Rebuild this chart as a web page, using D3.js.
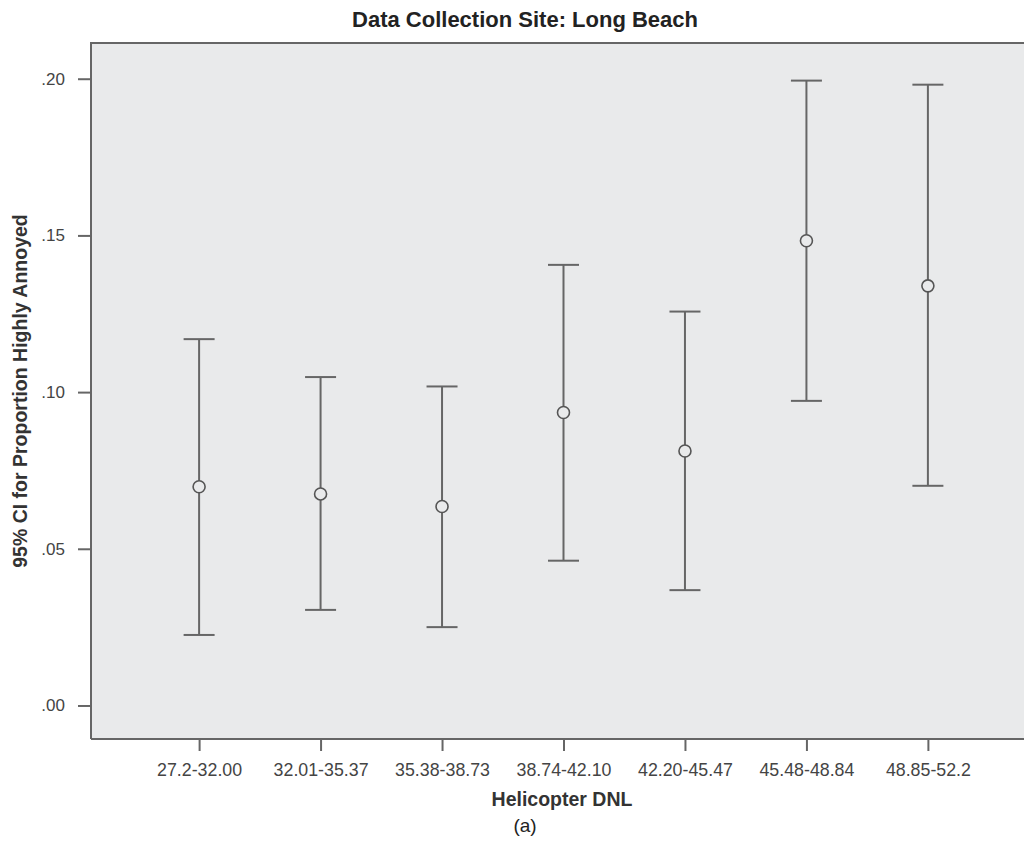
<!DOCTYPE html>
<html>
<head>
<meta charset="utf-8">
<script src="https://cdn.jsdelivr.net/npm/d3@7"></script>
<style>
  body { margin: 0; background: #fff; }
  svg { display: block; font-family: "Liberation Sans", Arial, sans-serif; }
</style>
</head>
<body>
<script>
// data
const categories = ["27.2-32.00", "32.01-35.37", "35.38-38.73", "38.74-42.10", "42.20-45.47", "45.48-48.84", "48.85-52.2"];
const means = [0.0698, 0.0675, 0.0635, 0.0935, 0.0812, 0.1483, 0.1339];
const lower = [0.0225, 0.0305, 0.0250, 0.0462, 0.0368, 0.0972, 0.0701];
const upper = [0.1169, 0.1048, 0.1018, 0.1406, 0.1257, 0.1994, 0.1981];
const yTicks = [0, 0.05, 0.10, 0.15, 0.20];
const yTickLabels = [".00", ".05", ".10", ".15", ".20"];
const yDomain = [-0.0107, 0.2114];

const width = 1024, height = 844;
const plotLeft = 91, plotRight = 1036, plotTop = 43, plotBottom = 739;
const ink = "#666";

const svg = d3.select("body")
  .append("svg")
  .attr("width", width)
  .attr("height", height)
  .attr("viewBox", [0, 0, width, height]);

const x = d3.scalePoint()
  .domain(categories)
  .range([plotLeft, plotRight])
  .padding(0.89);

const y = d3.scaleLinear()
  .domain(yDomain)
  .range([plotBottom, plotTop]);

// plot background
svg.append("rect")
  .attr("x", plotLeft).attr("y", plotTop)
  .attr("width", plotRight - plotLeft).attr("height", plotBottom - plotTop)
  .attr("fill", "#e9eaeb");

// frame: top, left, bottom
svg.append("path")
  .attr("d", `M${plotLeft},${plotBottom}V${plotTop}H${plotRight}M${plotLeft},${plotBottom}H${plotRight}`)
  .attr("fill", "none")
  .attr("stroke", ink)
  .attr("stroke-width", 2);

// y axis
const yAxis = d3.axisLeft(y)
  .tickValues(yTicks)
  .tickFormat((d, i) => yTickLabels[i])
  .tickSize(13)
  .tickPadding(13);

svg.append("g")
  .attr("transform", `translate(${plotLeft},0)`)
  .call(yAxis)
  .call(g => g.select(".domain").remove())
  .call(g => g.selectAll("line").attr("stroke", ink).attr("stroke-width", 2))
  .call(g => g.selectAll("text").attr("fill", "#444").attr("font-size", 17).attr("font-family", "Liberation Sans, Arial, sans-serif"));

// x axis
const xAxis = d3.axisBottom(x)
  .tickSize(12)
  .tickPadding(12);

svg.append("g")
  .attr("transform", `translate(0,${plotBottom})`)
  .call(xAxis)
  .call(g => g.select(".domain").remove())
  .call(g => g.selectAll("line").attr("stroke", ink).attr("stroke-width", 2))
  .call(g => g.selectAll("text").attr("fill", "#444").attr("font-size", 17.8).attr("font-family", "Liberation Sans, Arial, sans-serif"));

// error bars
const bars = svg.append("g")
  .selectAll("g")
  .data(categories)
  .join("g")
  .attr("stroke", ink)
  .attr("stroke-width", 2)
  .attr("fill", "none");

bars.append("line")
  .attr("x1", d => x(d)).attr("x2", d => x(d))
  .attr("y1", (d, i) => y(upper[i])).attr("y2", (d, i) => y(lower[i]));

bars.append("line")
  .attr("x1", d => x(d) - 15.5).attr("x2", d => x(d) + 15.5)
  .attr("y1", (d, i) => y(upper[i])).attr("y2", (d, i) => y(upper[i]));

bars.append("line")
  .attr("x1", d => x(d) - 15.5).attr("x2", d => x(d) + 15.5)
  .attr("y1", (d, i) => y(lower[i])).attr("y2", (d, i) => y(lower[i]));

bars.append("circle")
  .attr("cx", d => x(d))
  .attr("cy", (d, i) => y(means[i]))
  .attr("r", 6)
  .attr("fill", "#e9eaeb")
  .attr("stroke", "#555")
  .attr("stroke-width", 1.6);

// titles
svg.append("text")
  .attr("x", 525).attr("y", 27)
  .attr("text-anchor", "middle")
  .attr("font-size", 22)
  .attr("font-weight", "bold")
  .attr("fill", "#222")
  .text("Data Collection Site: Long Beach");

svg.append("text")
  .attr("x", 562).attr("y", 806)
  .attr("text-anchor", "middle")
  .attr("font-size", 19.5)
  .attr("font-weight", "bold")
  .attr("fill", "#333")
  .text("Helicopter DNL");

svg.append("text")
  .attr("transform", `translate(27,${(plotTop + plotBottom) / 2}) rotate(-90)`)
  .attr("text-anchor", "middle")
  .attr("font-size", 19.5)
  .attr("font-weight", "bold")
  .attr("fill", "#333")
  .text("95% CI for Proportion Highly Annoyed");

svg.append("text")
  .attr("x", 525).attr("y", 832)
  .attr("text-anchor", "middle")
  .attr("font-size", 19)
  .attr("fill", "#222")
  .text("(a)");
</script>
</body>
</html>
